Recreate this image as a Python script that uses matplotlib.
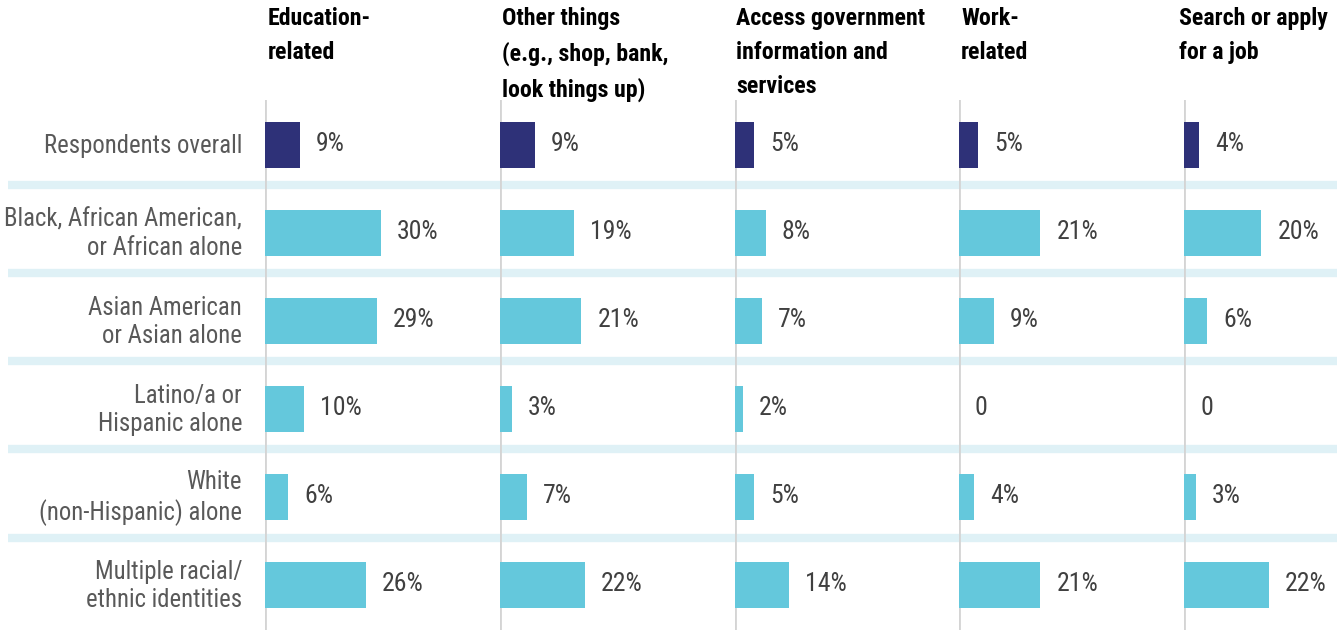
import matplotlib
matplotlib.use('Agg')
import matplotlib.pyplot as plt
from matplotlib import font_manager

# ---- data ----
groups = ['Respondents overall', 'Black, African American,\nor African alone',
          'Asian American\nor Asian alone', 'Latino/a or\nHispanic alone',
          'White\n(non-Hispanic) alone', 'Multiple racial/\nethnic identities']
headers = ['Education-\nrelated', 'Other things\n(e.g., shop, bank,\nlook things up)',
           'Access government\ninformation and\nservices', 'Work-\nrelated',
           'Search or apply\nfor a job']
education = [9, 30, 29, 10, 6, 26]
other = [9, 19, 21, 3, 7, 22]
government = [5, 8, 7, 2, 5, 14]
work = [5, 21, 9, 0, 4, 21]
job = [4, 20, 6, 0, 3, 22]
series = [education, other, government, work, job]

# narrow font if one is around, else plain Liberation Sans a bit smaller
fl = font_manager.fontManager.ttflist
names = {f.name for f in fl}
narrow = None
for cand in ['Liberation Sans Narrow', 'Arial Narrow', 'Roboto Condensed']:
    if cand in names:
        narrow = cand
        break
stretch = 'normal'
if narrow is None and any(f.name == 'DejaVu Sans' and f.stretch == 'condensed' for f in fl):
    narrow, stretch = 'DejaVu Sans', 'condensed'
if narrow:
    fam, fs_lab, fs_val, fs_head = narrow, 17.8, 18.5, 17.2
else:
    fam, fs_lab, fs_val, fs_head = 'Liberation Sans', 15.5, 16, 15
plt.rcParams['font.family'] = [fam, 'DejaVu Sans']
plt.rcParams['font.stretch'] = stretch

W, H = 1337, 630
fig = plt.figure(figsize=(W / 100, H / 100), dpi=100)

NAVY = '#2e3178'
TEAL = '#64c8dc'
SEP = '#dff1f6'
VLINE = '#d4d4d4'

top_px, bot_px = 100, 630
nrow = len(groups)
ylim = (nrow - 1 + 0.511, -0.511)
px_per = 3.87  # pixels per percent point
lefts = [265, 500, 735, 959, 1184]
rights = lefts[1:] + [W]
head_x = [268, 502, 736, 961, 1179]

# background axes for row separators
bg = fig.add_axes([8 / W, (H - bot_px) / H, 1 - 8 / W, (bot_px - top_px) / H])
bg.set_xlim(0, 1)
bg.set_ylim(*ylim)
bg.axis('off')
for i in range(nrow - 1):
    bg.axhline(i + 0.46, color=SEP, lw=6, zorder=0)

for i, g in enumerate(groups):
    fig.text(242 / W, 1 - (146 + 88 * i) / H, g, ha='right', va='center',
             fontsize=fs_lab, color='#595959', linespacing=1.22)

for k, vals in enumerate(series):
    l, r = lefts[k], rights[k]
    ax = fig.add_axes([l / W, (H - bot_px) / H, (r - l) / W, (bot_px - top_px) / H])
    ax.set_xlim(0, (r - l) / px_per)
    ax.set_ylim(*ylim)
    ax.axis('off')
    colors = [NAVY] + [TEAL] * (nrow - 1)
    ax.barh(range(nrow), vals, height=0.53, color=colors, zorder=2)
    ax.axvline(0, color=VLINE, lw=2, zorder=1)
    for i, v in enumerate(vals):
        txt = f'{v}%' if v > 0 else '0'
        ax.annotate(txt, (v, i), xytext=(16, 1), textcoords='offset pixels',
                    ha='left', va='center', fontsize=fs_val, color='#404040')
    fig.text(head_x[k] / W, 1 - 7 / H, headers[k], ha='left', va='top',
             fontsize=fs_head, fontweight='bold', color='black', linespacing=1.6)

fig.savefig('out.png', dpi=100)
